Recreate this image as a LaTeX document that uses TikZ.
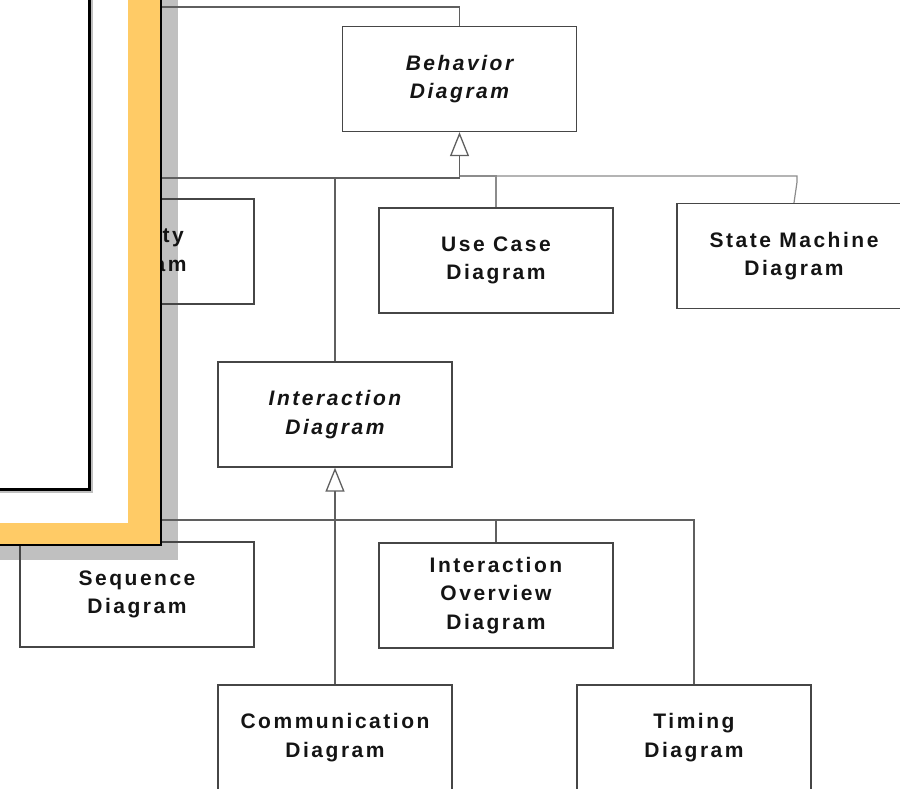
\documentclass[tikz,border=0pt]{standalone}
\usepackage{fontspec}
\setmainfont{Liberation Sans}
\newfontfamily\lblfont[LetterSpace=12]{Liberation Sans}
\usetikzlibrary{arrows.meta}
\definecolor{panelyellow}{RGB}{255,203,102}
\definecolor{shadowgray}{RGB}{192,192,192}
\definecolor{boxline}{RGB}{70,70,70}
\definecolor{wireline}{RGB}{95,95,95}
\definecolor{wirelight}{RGB}{140,140,140}
\tikzset{
  umlbox/.style={draw=boxline, line width=1.3bp, minimum width=234bp, minimum height=105bp,
    inner sep=0pt, align=center, text=black!92,
    font=\lblfont\bfseries\fontsize{21bp}{28.5bp}\selectfont},
  abstractbox/.style={umlbox, font=\lblfont\bfseries\itshape\fontsize{21bp}{28.5bp}\selectfont},
  wire/.style={draw=wireline, line width=1.2bp},
  wirelt/.style={draw=wirelight, line width=1.2bp},
  generalizes/.style={wire, -{Triangle[open, length=24bp, width=19bp, line width=1.3bp]}},
}
\begin{document}
\begin{tikzpicture}[x=1bp, y=-1bp]
\useasboundingbox (0,0) rectangle (900,789);
\clip (0,0) rectangle (900,789);

% drop shadow of the overlaid page
\fill[shadowgray] (-10,-10) rectangle (178,560);

% boxes
\node[abstractbox] (beh)   at (459.5,79)  {Behavior\\Diagram};
\node[umlbox]      (act)   at (137,251.5) {Activity\\Diagram};
\node[umlbox]      (uc)    at (496,260.5) {Use Case\\Diagram};
\node[umlbox]      (sm)    at (794,256)   {State Machine\\Diagram};
\node[abstractbox] (inter) at (335,414.5) {Interaction\\Diagram};
\node[umlbox]      (seq)   at (137,594.5) {Sequence\\Diagram};
\node[umlbox]      (io)    at (496,595.5) {Interaction\\Overview\\Diagram};
\node[umlbox]      (comm)  at (335,737.5) {Communication\\Diagram};
\node[umlbox]      (tim)   at (694,737.5) {Timing\\Diagram};

% link from the behaviour diagram up to its parent
\coordinate (root) at (100,7);
\draw[wire] (beh.north) |- (root);

% behaviour diagram generalisation tree
\coordinate (bj)  at (459.5,178);
\coordinate (bjr) at (459.5,176);
\coordinate (smk) at (797,182);
\draw[generalizes] (bj) -- (beh.south);
\draw[wire] (bj) -| (act.north);
\draw[wire] (bj) -| (inter.north);
\draw[wirelt] (bjr) -| (uc.north);
\draw[wirelt] (bjr) -| (smk) -- (sm.north);

% interaction diagram generalisation tree
\coordinate (ij) at (335,520);
\draw[generalizes] (ij) -- (inter.south);
\draw[wire] (ij) -| (seq.north);
\draw[wire] (ij) -- (comm.north);
\draw[wire] (ij) -| (io.north);
\draw[wire] (ij) -| (tim.north);

% overlaid page with yellow border
\fill[panelyellow] (-10,-10) rectangle (161,545);
\fill[white] (-10,-10) rectangle (128,523);
\draw[black, line width=1.5bp] (161,-10) -- (161,545) -- (-10,545);
\draw[black!25, line width=3bp] (91.5,-10) -- (91.5,491.5) -- (-10,491.5);
\draw[black, line width=3bp] (89.5,-10) -- (89.5,489.5) -- (-10,489.5);
\end{tikzpicture}
\end{document}
